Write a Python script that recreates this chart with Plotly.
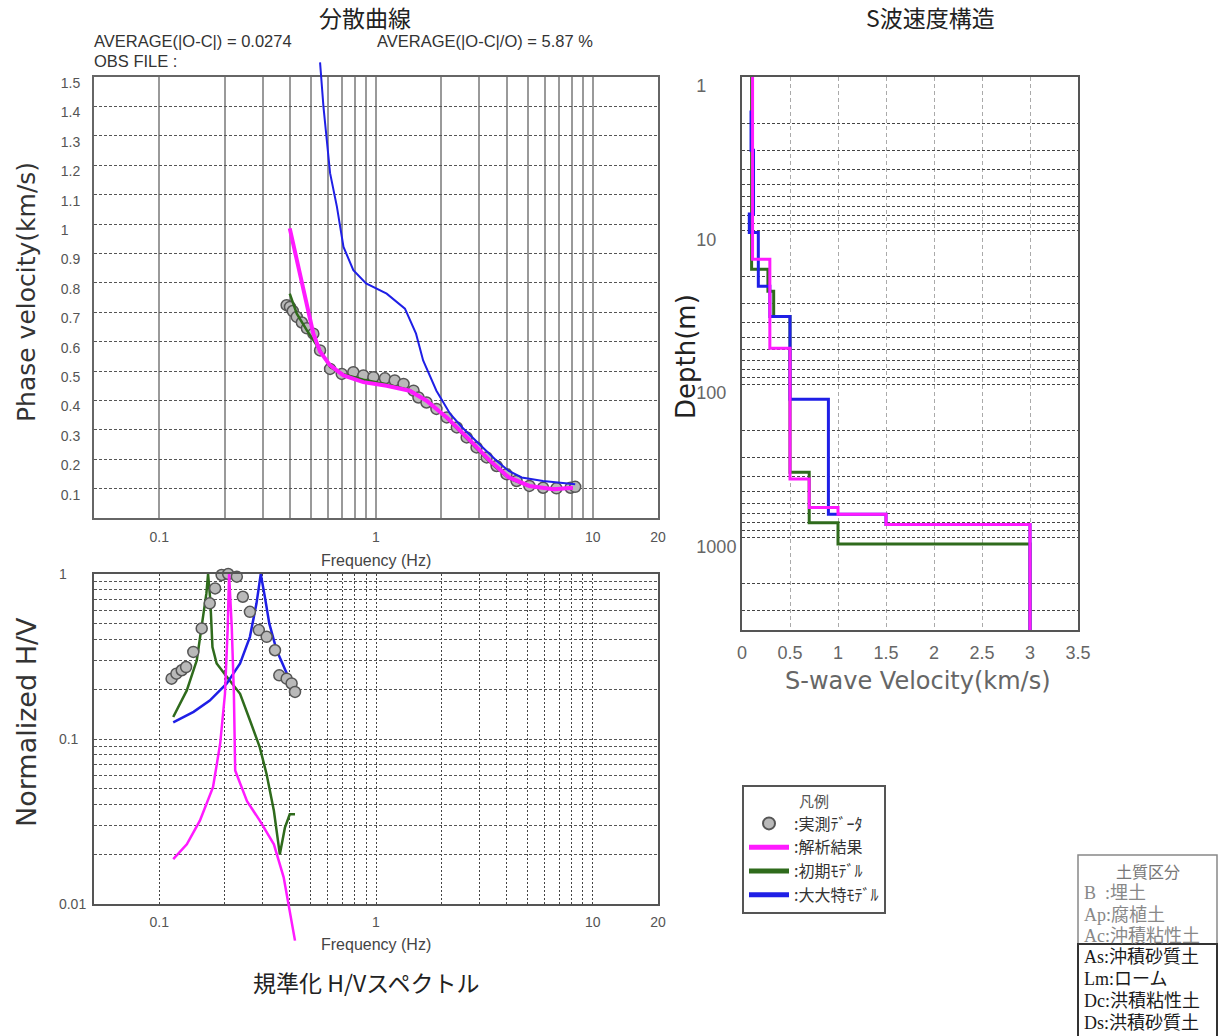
import math
import plotly.graph_objects as go

W, H = 1223, 1036

# ---------------- data ----------------
# Dispersion curve (top-left): frequency (Hz) vs phase velocity (km/s)
obs_freq = [0.387, 0.401, 0.413, 0.431, 0.455, 0.48, 0.514, 0.552, 0.614, 0.695, 0.786, 0.874, 0.973,
            1.10, 1.22, 1.34, 1.49, 1.57, 1.71, 1.90, 2.12, 2.36, 2.62, 2.91, 3.24, 3.60, 4.00,
            4.45, 5.10, 5.90, 6.80, 7.90, 8.30]
obs_vel = [0.724, 0.718, 0.704, 0.684, 0.665, 0.645, 0.627, 0.570, 0.507, 0.490, 0.496, 0.485, 0.479,
           0.475, 0.468, 0.456, 0.433, 0.410, 0.393, 0.371, 0.342, 0.308, 0.274, 0.240, 0.206, 0.177, 0.149,
           0.126, 0.109, 0.103, 0.101, 0.103, 0.106]

mag_freq = [0.40, 0.446, 0.48, 0.514, 0.552, 0.614, 0.708, 0.874, 1.12, 1.43, 1.71, 2.12, 2.72, 3.35,
            4.1, 5.1, 6.6, 8.1]
mag_vel = [0.985, 0.83, 0.71, 0.627, 0.566, 0.519, 0.485, 0.462, 0.450, 0.433, 0.399, 0.342, 0.263, 0.195,
           0.138, 0.109, 0.098, 0.103]

grn_freq = [0.40, 0.431, 0.48, 0.552, 0.614, 0.70, 0.874, 1.12, 1.43, 1.71, 2.12, 2.72, 3.35, 4.1,
            5.1, 6.6, 8.1]
grn_vel = [0.763, 0.695, 0.638, 0.570, 0.513, 0.490, 0.470, 0.455, 0.435, 0.400, 0.340, 0.258, 0.190,
           0.135, 0.108, 0.099, 0.102]

blu_freq = [0.552, 0.572, 0.614, 0.66, 0.708, 0.786, 0.90, 1.12, 1.36, 1.53, 1.65, 1.90, 2.2, 2.5,
            3.0, 3.6, 4.1, 4.7, 5.9, 7.3, 8.3]
blu_vel = [1.55, 1.40, 1.173, 1.059, 0.922, 0.843, 0.798, 0.763, 0.712, 0.627, 0.536, 0.433, 0.354,
           0.308, 0.251, 0.195, 0.160, 0.138, 0.126, 0.120, 0.115]

# Normalized H/V spectrum (bottom-left)
hv_obs_freq = [0.114, 0.120, 0.127, 0.133, 0.1436, 0.157, 0.171, 0.181, 0.194, 0.208, 0.228, 0.243,
               0.262, 0.288, 0.313, 0.342, 0.358, 0.387, 0.408, 0.423]
hv_obs = [0.232, 0.249, 0.261, 0.273, 0.337, 0.468, 0.664, 0.818, 0.986, 1.0, 0.963, 0.728,
          0.59, 0.457, 0.416, 0.345, 0.243, 0.232, 0.217, 0.193]

hv_grn_freq = [0.116, 0.134, 0.149, 0.159, 0.165, 0.168, 0.172, 0.176, 0.184, 0.205, 0.236, 0.262,
               0.291, 0.313, 0.338, 0.36, 0.38, 0.40, 0.423]
hv_grn = [0.136, 0.197, 0.30, 0.525, 0.763, 1.0, 0.695, 0.361, 0.287, 0.238, 0.188, 0.13,
          0.089, 0.061, 0.0367, 0.020, 0.029, 0.035, 0.035]

hv_blu_freq = [0.116, 0.144, 0.171, 0.205, 0.236, 0.262, 0.281, 0.291, 0.294, 0.307, 0.322, 0.348,
               0.375, 0.40, 0.43]
hv_blu = [0.126, 0.146, 0.171, 0.217, 0.287, 0.416, 0.664, 0.963, 1.0, 0.728, 0.50, 0.345,
          0.273, 0.227, 0.197]

hv_mag_freq = [0.116, 0.134, 0.154, 0.177, 0.191, 0.201, 0.207, 0.210, 0.216, 0.221, 0.224, 0.254,
               0.291, 0.338, 0.375, 0.40, 0.423]
hv_mag = [0.0187, 0.023, 0.032, 0.051, 0.0935, 0.188, 0.478, 1.0, 0.478, 0.188, 0.0645, 0.042,
          0.032, 0.023, 0.0145, 0.0091, 0.006]

# S-wave velocity structure (right): layer velocity (km/s) and layer-top depth (m)
mag_vs = [0.11, 0.29, 0.5, 0.7, 1.0, 1.5, 3.0]
mag_top = [1, 15.4, 58.5, 416, 638, 706, 821]
grn_vs = [0.10, 0.27, 0.33, 0.5, 0.7, 1.0, 3.0]
grn_top = [1, 17.9, 24.9, 36.3, 376, 800, 1100]
blu_vs = [0.094, 0.12, 0.076, 0.17, 0.29, 0.5, 0.9, 1.5, 3.0]
blu_top = [1.65, 3.0, 7.8, 10.3, 23.1, 36.3, 125.6, 706, 821]
profile_bottom = 4000

# tick labels (padded with figure/punctuation spaces so they read left-aligned like the source)
FS, PS = "\u2007", "\u2008"
freq_grid = [0.1, 0.2, 0.3, 0.4, 0.5, 0.6, 0.7, 0.8, 0.9, 1, 2, 3, 4, 5, 6, 7, 8, 9, 10, 20]
freq_labels = {0.1: "0.1", 1: "1", 10: "10", 20: "20"}
vel_ticks = [0.1, 0.2, 0.3, 0.4, 0.5, 0.6, 0.7, 0.8, 0.9, 1.0, 1.1, 1.2, 1.3, 1.4, 1.5]
vel_labels = ["0.1", "0.2", "0.3", "0.4", "0.5", "0.6", "0.7", "0.8", "0.9", "1" + PS + FS,
              "1.1", "1.2", "1.3", "1.4", "1.5"]
hv_grid = [m * 10 ** e for e in (-2, -1) for m in range(1, 10)] + [1]
hv_labels = {0.01: "0.01", 0.1: "0.1" + FS, 1: "1" + PS + FS + FS}
vs_ticks = [0, 0.5, 1, 1.5, 2, 2.5, 3, 3.5]
vs_labels = ["0", "0.5", "1", "1.5", "2", "2.5", "3", "3.5"]
depth_grid = [m * 10 ** e for e in (0, 1, 2) for m in range(1, 10)] + [1000, 2000, 3000]
depth_labels = {1: "1" + FS * 3, 10: "10" + FS * 2, 100: "100" + FS, 1000: "1000"}

# ---------------- styles ----------------
MAG = "#ff1aff"
GRN = "#2f6b1c"
BLU = "#1f1fe6"
OBS_FILL = "#b9b9b9"
OBS_EDGE = "#555555"
SANS = "Liberation Sans, Arial, sans-serif"
WIDE = "DejaVu Sans, Verdana, sans-serif"
JP = "Noto Sans CJK JP, sans-serif"
SERIF = "Liberation Serif, Noto Sans CJK JP, serif"


def fx(p):
    return p / W


def fy(p):
    return 1 - p / H


def lab(vals, mapping):
    out = []
    for v in vals:
        t = ""
        for k, s in mapping.items():
            if abs(v - k) < 1e-9 * max(1, k):
                t = s
        out.append(t)
    return out


def steps(vs, tops, bottom):
    xs = list(vs) + [vs[-1]]
    ys = list(tops) + [bottom]
    return xs, ys


# frames (pixels)
TOP = dict(l=94, r=658, t=77, b=518)
BOT = dict(l=94, r=658, t=574, b=904)
RIG = dict(l=742, r=1078, t=77, b=630)
TOP_EXT = 58     # extra region so the blue curve may leave the top frame
BOT_EXT = 950    # extra region so the magenta curve may leave the bottom frame

vmax = 1.5
vmax_ext = vmax * (TOP["b"] - TOP_EXT) / (TOP["b"] - TOP["t"])
hv_lo_ext = -2 * (BOT_EXT - BOT["t"]) / (BOT["b"] - BOT["t"])

fig = go.Figure()

# ---- dispersion (top) ----
fig.add_trace(go.Scatter(x=obs_freq, y=obs_vel, mode="markers", xaxis="x", yaxis="y",
                         marker=dict(size=11, color=OBS_FILL, line=dict(color=OBS_EDGE, width=1.5)),
                         name=":実測ﾃﾞｰﾀ", legendgroup="obs", legendrank=1, showlegend=True, cliponaxis=False))
fig.add_trace(go.Scatter(x=grn_freq, y=grn_vel, mode="lines", xaxis="x", yaxis="y",
                         line=dict(color=GRN, width=2.5), name=":初期ﾓﾃﾞﾙ", legendgroup="grn",
                         legendrank=3, showlegend=True))
fig.add_trace(go.Scatter(x=blu_freq, y=blu_vel, mode="lines", xaxis="x4", yaxis="y4",
                         line=dict(color=BLU, width=2), name=":大大特ﾓﾃﾞﾙ", legendgroup="blu",
                         legendrank=4, showlegend=True))
fig.add_trace(go.Scatter(x=mag_freq, y=mag_vel, mode="lines", xaxis="x", yaxis="y",
                         line=dict(color=MAG, width=4), name=":解析結果", legendgroup="mag",
                         legendrank=2, showlegend=True))

# ---- H/V (bottom) ----
fig.add_trace(go.Scatter(x=hv_grn_freq, y=hv_grn, mode="lines", xaxis="x2", yaxis="y2",
                         line=dict(color=GRN, width=2.5), legendgroup="grn", showlegend=False))
fig.add_trace(go.Scatter(x=hv_blu_freq, y=hv_blu, mode="lines", xaxis="x2", yaxis="y2",
                         line=dict(color=BLU, width=2.5), legendgroup="blu", showlegend=False))
fig.add_trace(go.Scatter(x=hv_mag_freq, y=hv_mag, mode="lines", xaxis="x5", yaxis="y5",
                         line=dict(color=MAG, width=2.5), legendgroup="mag", showlegend=False))
fig.add_trace(go.Scatter(x=hv_obs_freq, y=hv_obs, mode="markers", xaxis="x2", yaxis="y2",
                         marker=dict(size=11, color=OBS_FILL, line=dict(color=OBS_EDGE, width=1.5)),
                         legendgroup="obs", showlegend=False, cliponaxis=False))

# ---- Vs profile (right) ----
for vs, tops, col, grp in ((grn_vs, grn_top, GRN, "grn"), (blu_vs, blu_top, BLU, "blu"),
                           (mag_vs, mag_top, MAG, "mag")):
    xs, ys = steps(vs, tops, profile_bottom)
    fig.add_trace(go.Scatter(x=xs, y=ys, mode="lines", xaxis="x3", yaxis="y3",
                             line=dict(color=col, width=3, shape="vh"), legendgroup=grp,
                             showlegend=False))

tick_font_small = dict(family=SANS, size=14, color="#555555")
tick_font_big = dict(family=SANS, size=18, color="#666666")
hdash = "3px,2px"

fig.update_layout(
    width=W, height=H,
    margin=dict(l=0, r=0, t=0, b=0, pad=0, autoexpand=False),
    paper_bgcolor="white",
    plot_bgcolor="rgba(0,0,0,0)",
    showlegend=True,
    legend=dict(
        x=fx(742), y=fy(785), xanchor="left", yanchor="top",
        bordercolor="#555555", borderwidth=2, bgcolor="white",
        font=dict(family=JP, size=16, color="#333333"),
        title=dict(text="凡例", side="top center", font=dict(family=JP, size=15, color="#555555")),
        itemsizing="constant", tracegroupgap=0, itemwidth=40,
    ),
    xaxis=dict(
        type="log", domain=[fx(TOP["l"]), fx(TOP["r"])], range=[math.log10(0.05), math.log10(20)],
        anchor="y", tickmode="array", tickvals=freq_grid, ticktext=lab(freq_grid, freq_labels),
        showgrid=True, gridcolor="#9a9a9a", gridwidth=1.5, ticks="", automargin=False,
        showline=True, mirror=True, linecolor="#666666", linewidth=2,
        tickfont=tick_font_small, ticklabelstandoff=5,
    ),
    yaxis=dict(
        domain=[fy(TOP["b"]), fy(TOP["t"])], range=[0, vmax], anchor="x", automargin=False,
        tickmode="array", tickvals=vel_ticks, ticktext=vel_labels,
        showgrid=True, gridcolor="#555555", gridwidth=1, griddash=hdash, zeroline=False, ticks="",
        showline=True, mirror=True, linecolor="#666666", linewidth=2,
        tickfont=tick_font_small, ticklabelstandoff=9, ticklabelshift=6,
    ),
    xaxis2=dict(
        type="log", domain=[fx(BOT["l"]), fx(BOT["r"])], range=[math.log10(0.05), math.log10(20)],
        anchor="y2", tickmode="array", tickvals=freq_grid, ticktext=lab(freq_grid, freq_labels),
        showgrid=True, gridcolor="#444444", gridwidth=1.2, griddash="2px,2px", ticks="",
        showline=True, mirror=True, linecolor="#555555", linewidth=2, automargin=False,
        tickfont=tick_font_small, ticklabelstandoff=4,
    ),
    yaxis2=dict(
        type="log", domain=[fy(BOT["b"]), fy(BOT["t"])], range=[-2, 0], anchor="x2",
        tickmode="array", tickvals=hv_grid, ticktext=lab(hv_grid, hv_labels),
        showgrid=True, gridcolor="#555555", gridwidth=1, griddash=hdash, ticks="",
        showline=True, mirror=True, linecolor="#555555", linewidth=2, automargin=False,
        tickfont=tick_font_small, ticklabelstandoff=3,
    ),
    xaxis3=dict(
        domain=[fx(RIG["l"]), fx(RIG["r"])], range=[0, 3.5], anchor="y3",
        tickmode="array", tickvals=vs_ticks, ticktext=vs_labels,
        showgrid=True, gridcolor="#aaaaaa", gridwidth=1.2, griddash="4px,3px", zeroline=False, ticks="",
        showline=True, mirror=True, linecolor="#555555", linewidth=2, automargin=False,
        tickfont=tick_font_big, ticklabelstandoff=5,
    ),
    yaxis3=dict(
        type="log", domain=[fy(RIG["b"]), fy(RIG["t"])], range=[math.log10(profile_bottom), 0],
        anchor="x3", tickmode="array", tickvals=depth_grid, ticktext=lab(depth_grid, depth_labels),
        showgrid=True, gridcolor="#444444", gridwidth=1.2, griddash=hdash, ticks="",
        showline=True, mirror=True, linecolor="#555555", linewidth=2, automargin=False,
        tickfont=tick_font_big, ticklabelstandoff=0, ticklabelshift=-9,
    ),
    # hidden companion axes (same scales, taller clip region)
    xaxis4=dict(domain=[fx(TOP["l"]), fx(TOP["r"])], type="log", automargin=False,
                range=[math.log10(0.05), math.log10(20)], anchor="y4", visible=False),
    yaxis4=dict(domain=[fy(TOP["b"]), fy(TOP_EXT)], range=[0, vmax_ext], anchor="x4", visible=False,
                automargin=False),
    xaxis5=dict(domain=[fx(BOT["l"]), fx(BOT["r"])], type="log", automargin=False,
                range=[math.log10(0.05), math.log10(20)], anchor="y5", visible=False),
    yaxis5=dict(domain=[fy(BOT_EXT), fy(BOT["t"])], type="log", range=[hv_lo_ext, 0],
                anchor="x5", visible=False, automargin=False),
)

ann = []


def text(x, y, s, size, color="#222222", family=JP, xanchor="center", angle=0):
    ann.append(dict(x=fx(x), y=fy(y), xref="paper", yref="paper", text=s, showarrow=False,
                    xanchor=xanchor, yanchor="middle", textangle=angle,
                    font=dict(family=family, size=size, color=color)))


text(365, 17, "分散曲線", 23, "#222222")
text(930, 17, "S波速度構造", 23, "#222222")
text(366, 982, "規準化 H/Vスペクトル", 23, "#222222")
text(92, 41, "AVERAGE(|O-C|) = 0.0274", 16.5, "#333333", SANS, "left")
text(375, 41, "AVERAGE(|O-C|/O) = 5.87 %", 16.5, "#333333", SANS, "left")
text(92, 61, "OBS FILE :", 16.5, "#333333", SANS, "left")
text(376, 560, "Frequency (Hz)", 16, "#444444", SANS)
text(376, 944, "Frequency (Hz)", 16, "#444444", SANS)
text(26, 292, "Phase velocity(km/s)", 25, "#333333", WIDE, angle=-90)
text(26, 722, "Normalized H/V", 27, "#333333", WIDE, angle=-90)
text(686, 357, "Depth(m)", 26, "#222222", WIDE, angle=-90)
text(918, 681, "S-wave Velocity(km/s)", 24, "#666666", WIDE)

# soil classification box
text(1148, 872, "土質区分", 16, "#777777", SERIF)
soil_lines = ["B\u00a0\u00a0:埋土", "Ap:腐植土", "Ac:沖積粘性土", "As:沖積砂質土",
              "Lm:ローム", "Dc:洪積粘性土", "Ds:洪積砂質土"]
soil_y = [893, 914, 936, 957, 979, 1001, 1023]
for i, (s, yy) in enumerate(zip(soil_lines, soil_y)):
    text(1082, yy, s, 18, "#888888" if i < 3 else "#1a1a1a", SERIF, "left")

fig.update_layout(annotations=ann, shapes=[
    dict(type="rect", xref="paper", yref="paper", x0=fx(1078), x1=fx(1217), y0=fy(1040), y1=fy(855),
         line=dict(color="#888888", width=1.5)),
    dict(type="rect", xref="paper", yref="paper", x0=fx(1078), x1=fx(1217), y0=fy(1040), y1=fy(944),
         line=dict(color="#333333", width=2)),
])

fig.write_html("out.html")
